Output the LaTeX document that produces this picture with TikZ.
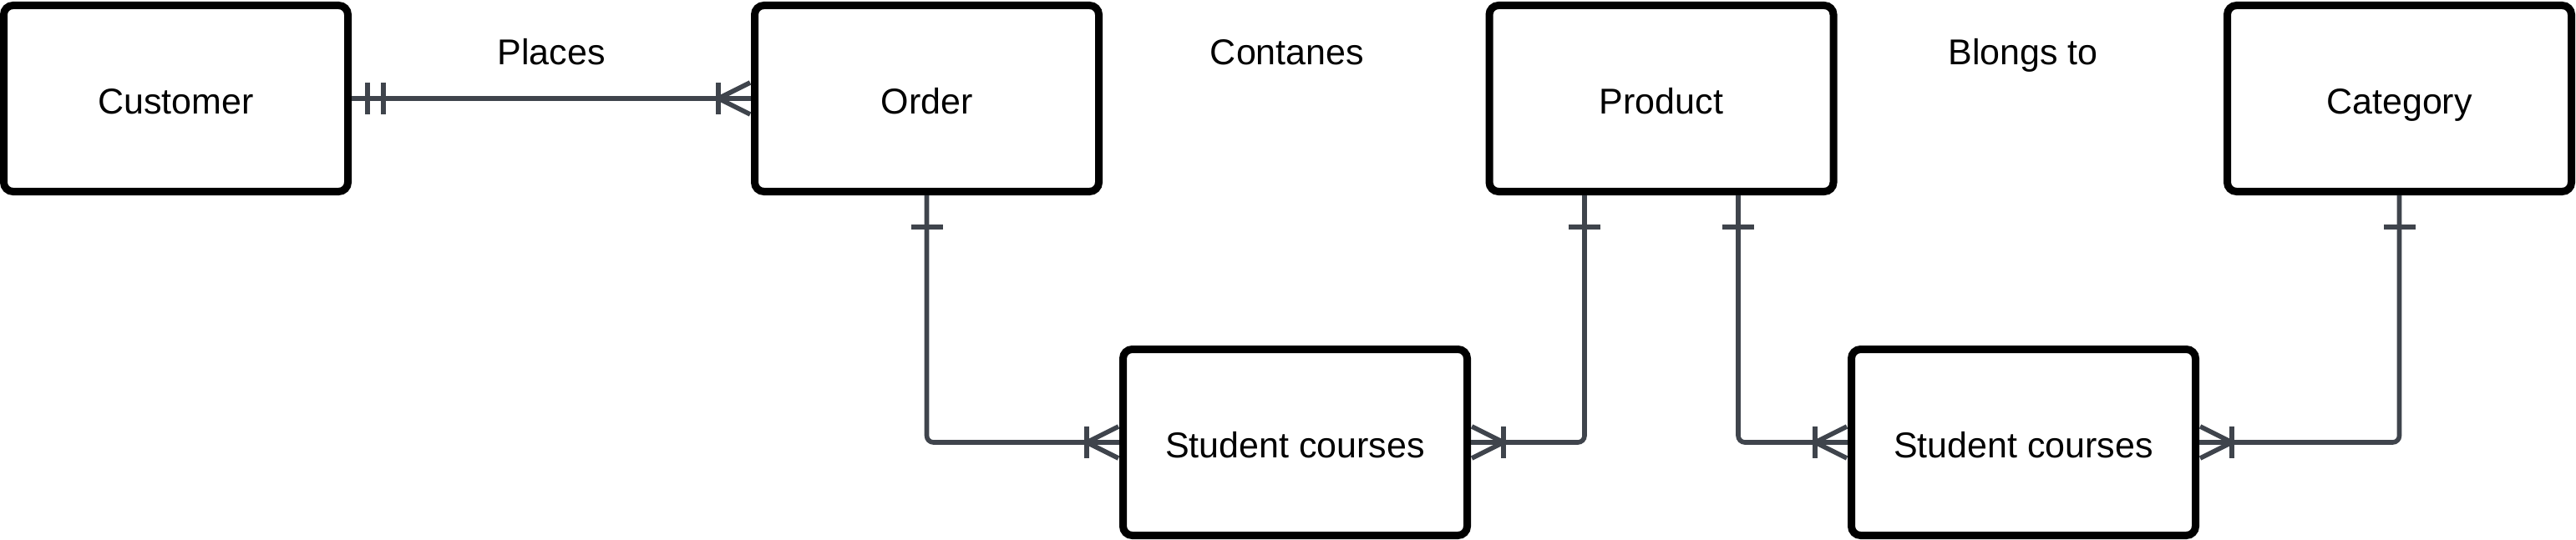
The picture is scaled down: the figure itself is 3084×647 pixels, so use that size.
\documentclass[tikz,border=0pt]{standalone}
\usepackage{fontspec}
\setmainfont{Liberation Sans}
\usetikzlibrary{calc}
\definecolor{connc}{HTML}{3F444C}
\tikzset{
  entity/.style={draw=black, fill=white, line width=4.5pt, rounded corners=5.5pt,
    minimum width=206pt, minimum height=111.5pt, inner sep=0pt,
    font=\fontsize{21.5}{25}\selectfont, text height=18pt, text depth=0pt},
  rel/.style={font=\fontsize{21.5}{25}\selectfont, text height=15pt, text depth=0pt, inner sep=0pt},
  conn/.style={draw=connc, line width=2.8pt, line cap=butt},
  pics/onebar/.style={code={\draw[conn] (38,-19) -- (38,19);}},
  pics/twobar/.style={code={\draw[conn] (19,-19) -- (19,19); \draw[conn] (38,-19) -- (38,19);}},
  pics/crowfoot/.style={code={\draw[conn] (39,-19) -- (39,19);
      \draw[conn] (39,0) -- (1,-19); \draw[conn] (39,0) -- (1,19);}},
}
\begin{document}
\begin{tikzpicture}[x=0.5pt,y=-0.5pt]
\useasboundingbox (0,0) rectangle (3084,647);
% entities
\node[entity] (cust) at (210.5,118) {Customer};
\node[entity] (ord) at (1109.5,118) {Order};
\node[entity] (prod) at (1989,118) {Product};
\node[entity] (cat) at (2872.5,118) {Category};
\node[entity] (sc1) at (1550.5,530) {Student courses};
\node[entity] (sc2) at (2422.5,530) {Student courses};
% relationship labels
\node[rel] (lplaces) at (660,63) {Places};
\node[rel] (lcont) at (1541,63) {Contanes};
\node[rel] (lbel) at (2422,63) {Blongs to};
% connector anchor points
\coordinate (p1) at ($(prod.south)+(-92,0)$);
\coordinate (p2) at ($(prod.south)+(92,0)$);
% connectors
\draw[conn] (cust.east) -- (ord.west);
\draw[conn, rounded corners=4pt] (ord.south) |- (sc1.west);
\draw[conn, rounded corners=4pt] (p1) |- (sc1.east);
\draw[conn, rounded corners=4pt] (p2) |- (sc2.west);
\draw[conn, rounded corners=4pt] (cat.south) |- (sc2.east);
% end markers
\pic at (cust.east) {twobar};
\pic[rotate=180] at (ord.west) {crowfoot};
\pic[rotate=-90] at (ord.south) {onebar};
\pic[rotate=180] at (sc1.west) {crowfoot};
\pic at (sc1.east) {crowfoot};
\pic[rotate=-90] at (p1) {onebar};
\pic[rotate=-90] at (p2) {onebar};
\pic[rotate=180] at (sc2.west) {crowfoot};
\pic at (sc2.east) {crowfoot};
\pic[rotate=-90] at (cat.south) {onebar};
\end{tikzpicture}
\end{document}
